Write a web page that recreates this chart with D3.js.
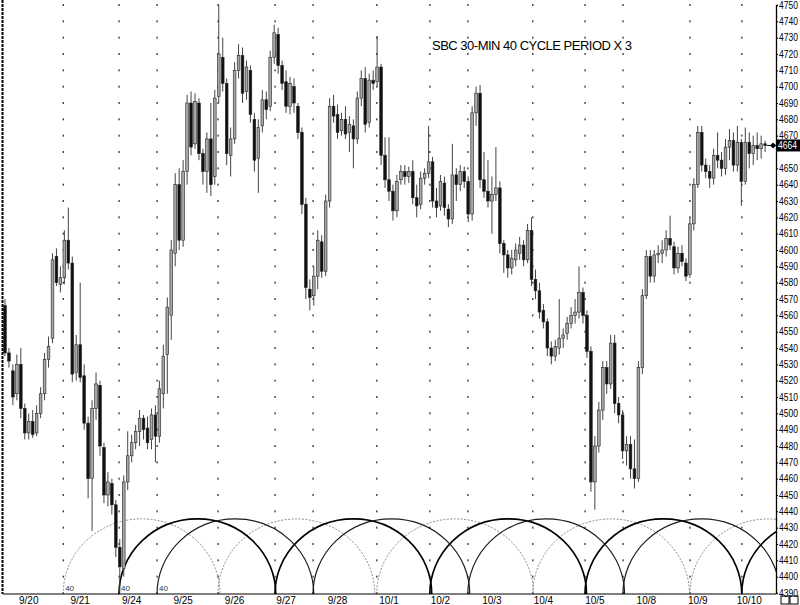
<!DOCTYPE html>
<html>
<head>
<meta charset="utf-8">
<script src="https://cdn.jsdelivr.net/npm/d3@7/dist/d3.min.js"></script>
<style>
  body { margin: 0; background: #fff; }
  svg { display: block; }
  .axis text { font-family: 'Liberation Sans Narrow', 'Liberation Sans', sans-serif; font-size: 10px; fill: #000; }
</style>
</head>
<body>
<div id="chart"></div>
<script>
// one label per trading day, 13 half-hour bars per day
const dates = ['9/20', '9/21', '9/24', '9/25', '9/26', '9/27', '9/28', '10/1', '10/2', '10/3', '10/4', '10/5', '10/8', '10/9', '10/10'];
const barsPerDay = 13;

// 30-min bars
const opens = [
  4566, 4537, 4526, 4512, 4530, 4503, 4488, 4495, 4488, 4500, 4512, 4533, 4546,
  4596, 4579, 4583, 4606, 4592, 4525, 4542, 4523, 4494, 4460, 4503, 4517, 4479,
  4450, 4457, 4444, 4418, 4405, 4458, 4474, 4482, 4489, 4497, 4491, 4484, 4499,
  4486, 4512, 4536, 4560, 4598, 4640, 4606, 4648, 4690, 4665, 4690, 4659, 4648,
  4668, 4645, 4694, 4718, 4702, 4658, 4668, 4710, 4719, 4697, 4710, 4680, 4656,
  4676, 4692, 4688, 4718, 4732, 4713, 4703, 4688, 4700, 4688, 4672, 4628, 4576,
  4572, 4584, 4605, 4587, 4630, 4688, 4683, 4673, 4680, 4672, 4676, 4668, 4693,
  4705, 4678, 4704, 4703, 4712, 4658, 4643, 4636, 4624, 4643, 4648, 4645, 4648,
  4632, 4628, 4644, 4647, 4654, 4630, 4627, 4641, 4625, 4619, 4646, 4640, 4648,
  4642, 4622, 4684, 4696, 4643, 4636, 4630, 4634, 4638, 4604, 4597, 4589, 4594,
  4598, 4603, 4594, 4612, 4582, 4575, 4563, 4556, 4540, 4535, 4540, 4546, 4549,
  4555, 4560, 4562, 4574, 4560, 4538, 4458, 4480, 4502, 4528, 4518, 4543, 4506,
  4499, 4477, 4481, 4466, 4460, 4528, 4572, 4596, 4584, 4597, 4598, 4600, 4607,
  4602, 4589, 4598, 4592, 4585, 4616, 4640, 4672, 4652, 4648, 4644, 4658, 4655,
  4650, 4663, 4667, 4652, 4666, 4642, 4666, 4659, 4664, 4662, 4665
];
const highs = [
  4570, 4540, 4530, 4536, 4540, 4506, 4500, 4502, 4505, 4516, 4537, 4547, 4598,
  4601, 4590, 4612, 4626, 4596, 4548, 4580, 4530, 4498, 4508, 4525, 4520, 4482,
  4464, 4460, 4447, 4423, 4462, 4489, 4487, 4493, 4502, 4499, 4498, 4503, 4505,
  4520, 4542, 4571, 4606, 4647, 4650, 4655, 4695, 4697, 4696, 4693, 4662, 4672,
  4690, 4698, 4750, 4730, 4705, 4675, 4715, 4726, 4724, 4716, 4713, 4684, 4680,
  4698, 4697, 4722, 4738, 4736, 4716, 4710, 4706, 4705, 4690, 4675, 4632, 4582,
  4590, 4612, 4609, 4634, 4693, 4695, 4689, 4684, 4688, 4682, 4680, 4697, 4710,
  4712, 4708, 4710, 4731, 4714, 4669, 4669, 4640, 4646, 4652, 4652, 4651, 4655,
  4640, 4648, 4650, 4676, 4657, 4638, 4646, 4645, 4628, 4665, 4650, 4652, 4651,
  4645, 4688, 4700, 4701, 4660, 4655, 4645, 4663, 4642, 4606, 4600, 4600, 4604,
  4608, 4606, 4616, 4620, 4588, 4580, 4567, 4558, 4544, 4545, 4570, 4552, 4559,
  4565, 4570, 4590, 4577, 4563, 4541, 4486, 4507, 4532, 4532, 4548, 4548, 4510,
  4502, 4486, 4486, 4484, 4532, 4576, 4600, 4600, 4600, 4603, 4606, 4612, 4621,
  4605, 4602, 4603, 4595, 4620, 4644, 4676, 4676, 4656, 4652, 4662, 4672, 4660,
  4668, 4674, 4672, 4676, 4668, 4675, 4672, 4670, 4672, 4670, 4667
];
const lows = [
  4535, 4528, 4505, 4508, 4497, 4484, 4484, 4485, 4486, 4497, 4508, 4528, 4543,
  4578, 4574, 4579, 4588, 4519, 4520, 4519, 4490, 4448, 4428, 4496, 4474, 4445,
  4443, 4438, 4412, 4390, 4400, 4453, 4470, 4478, 4480, 4484, 4478, 4478, 4470,
  4482, 4503, 4512, 4545, 4590, 4600, 4602, 4640, 4658, 4662, 4655, 4640, 4635,
  4633, 4640, 4690, 4697, 4652, 4645, 4665, 4705, 4690, 4692, 4678, 4648, 4635,
  4672, 4680, 4685, 4714, 4708, 4698, 4684, 4683, 4684, 4668, 4622, 4570, 4563,
  4566, 4576, 4583, 4584, 4626, 4678, 4668, 4670, 4668, 4660, 4650, 4665, 4688,
  4672, 4675, 4698, 4700, 4652, 4638, 4630, 4618, 4620, 4640, 4640, 4641, 4628,
  4620, 4625, 4640, 4644, 4626, 4620, 4624, 4621, 4614, 4616, 4630, 4636, 4638,
  4617, 4618, 4676, 4638, 4632, 4626, 4610, 4630, 4598, 4586, 4583, 4585, 4590,
  4594, 4590, 4592, 4578, 4570, 4558, 4552, 4535, 4530, 4532, 4536, 4540, 4545,
  4552, 4555, 4558, 4555, 4534, 4452, 4441, 4476, 4496, 4512, 4515, 4500, 4494,
  4472, 4468, 4460, 4454, 4458, 4524, 4570, 4580, 4580, 4592, 4592, 4596, 4600,
  4585, 4586, 4590, 4581, 4583, 4612, 4638, 4648, 4644, 4638, 4640, 4650, 4645,
  4646, 4655, 4648, 4648, 4627, 4640, 4650, 4652, 4655, 4656, 4660
];
const closes = [
  4537, 4532, 4510, 4530, 4503, 4488, 4495, 4487, 4500, 4512, 4533, 4541, 4594,
  4580, 4583, 4606, 4592, 4524, 4542, 4522, 4494, 4460, 4503, 4518, 4480, 4450,
  4458, 4444, 4418, 4406, 4458, 4474, 4482, 4489, 4497, 4490, 4482, 4499, 4486,
  4515, 4535, 4565, 4600, 4640, 4606, 4648, 4690, 4663, 4691, 4659, 4648, 4668,
  4640, 4693, 4720, 4702, 4659, 4668, 4710, 4719, 4696, 4712, 4683, 4655, 4675,
  4692, 4686, 4718, 4733, 4713, 4702, 4688, 4702, 4690, 4672, 4628, 4577, 4571,
  4584, 4606, 4587, 4630, 4688, 4682, 4672, 4680, 4671, 4677, 4668, 4693, 4705,
  4677, 4704, 4702, 4712, 4658, 4643, 4636, 4624, 4642, 4648, 4645, 4648, 4632,
  4627, 4644, 4647, 4654, 4630, 4626, 4642, 4626, 4619, 4646, 4640, 4648, 4642,
  4622, 4684, 4696, 4643, 4636, 4630, 4634, 4638, 4604, 4597, 4589, 4595, 4600,
  4603, 4594, 4612, 4582, 4575, 4562, 4556, 4540, 4535, 4541, 4546, 4548, 4555,
  4560, 4562, 4574, 4560, 4538, 4458, 4480, 4502, 4528, 4518, 4543, 4506, 4499,
  4477, 4481, 4466, 4460, 4528, 4572, 4596, 4584, 4597, 4598, 4600, 4607, 4603,
  4589, 4598, 4593, 4584, 4616, 4640, 4672, 4652, 4648, 4644, 4658, 4655, 4650,
  4663, 4667, 4652, 4666, 4642, 4666, 4659, 4664, 4662, 4665, 4664
];

// 40-bar cycle lows (bar index), three phase-shifted series
const cycleLength = 39.6;
const cycleA = [15.2, 54.3, 94.4, 133.8, 173.5];
const cycleB = [29.3, 68.7, 107.8, 147.0, 186.6];
const cycleC = [38.9, 78.3, 117.4, 156.6];
const arcTop = 4436;

const W = 800, H = 605;
const plotL = 3, plotR = 776, plotB = 594;
const nBars = dates.length * barsPerDay;

const x = d3.scaleLinear().domain([0, nBars]).range([plotL, plotR - 1]);
const y = d3.scaleLinear().domain([4390, 4750]).range([593, 5]);
const priceTicks = d3.range(4390, 4751, 10);

const bars = opens.map((o, i) => ({ i, o, h: highs[i], l: lows[i], c: closes[i] }));
const last = bars[bars.length - 1];

const svg = d3.select('#chart').append('svg').attr('width', W).attr('height', H);
svg.append('rect').attr('width', W).attr('height', H).attr('fill', '#fff');

svg.append('defs').append('clipPath').attr('id', 'plotClip')
  .append('rect').attr('x', plotL).attr('y', 0).attr('width', plotR - plotL).attr('height', plotB);

// dotted cycle lines
const allLows = [...cycleA, ...cycleB, ...cycleC].filter((t) => t < nBars);
const dots = svg.append('g');
allLows.forEach((t) => {
  dots.selectAll(null).data(priceTicks).enter().append('rect')
    .attr('x', x(t) - 0.5).attr('y', (d) => y(d) - 1)
    .attr('width', 1.2).attr('height', 2).attr('fill', '#222');
});

// cycle arcs
const ry = y(4390) - y(arcTop);
const arcSeries = [
  { lows: cycleA, stroke: '#8a8a8a', width: 1, dash: '2,1.5' },
  { lows: cycleB, stroke: '#000', width: 1.6, dash: null },
  { lows: cycleC, stroke: '#1a1a1a', width: 1.2, dash: null }
];
const arcG = svg.append('g').attr('clip-path', 'url(#plotClip)');
arcSeries.forEach((s) => {
  arcG.selectAll(null).data(s.lows).enter().append('path')
    .attr('d', (t) => {
      const x0 = x(t), x1 = x(t + cycleLength);
      return `M${x0},${plotB} A${(x1 - x0) / 2},${ry} 0 0 1 ${x1},${plotB}`;
    })
    .attr('fill', 'none')
    .attr('stroke', s.stroke)
    .attr('stroke-width', s.width)
    .attr('stroke-dasharray', s.dash);
  svg.append('text')
    .attr('x', x(s.lows[0]) + 2).attr('y', plotB - 3)
    .attr('font-family', 'Liberation Sans, sans-serif').attr('font-size', 8)
    .attr('fill', '#333').text('40');
});

// candles
const bw = (x(1) - x(0)) * 0.68;
const cg = svg.append('g').attr('clip-path', 'url(#plotClip)');
cg.selectAll('line.wick').data(bars).enter().append('line')
  .attr('class', 'wick')
  .attr('x1', (d) => x(d.i + 0.5)).attr('x2', (d) => x(d.i + 0.5))
  .attr('y1', (d) => y(d.h)).attr('y2', (d) => y(d.l))
  .attr('stroke', '#444').attr('stroke-width', 1);
cg.selectAll('rect.body').data(bars).enter().append('rect')
  .attr('class', 'body')
  .attr('x', (d) => x(d.i + 0.5) - bw / 2)
  .attr('y', (d) => y(Math.max(d.o, d.c)))
  .attr('width', bw)
  .attr('height', (d) => Math.max(1, Math.abs(y(d.o) - y(d.c))))
  .attr('fill', (d) => (d.c >= d.o ? '#a8a8a8' : '#111'))
  .attr('stroke', '#222').attr('stroke-width', 0.6);

// frame
svg.append('line').attr('x1', plotL - 0.5).attr('x2', plotL - 0.5).attr('y1', 0).attr('y2', plotB)
  .attr('stroke', '#000').attr('stroke-width', 2).attr('stroke-dasharray', '3,1');
svg.append('line').attr('x1', plotL).attr('x2', plotR).attr('y1', plotB).attr('y2', plotB)
  .attr('stroke', '#000').attr('stroke-width', 1.2);

// price axis, labels squeezed into the narrow right margin;
// the tick hidden behind the last-price box is left out
const shownTicks = priceTicks.filter((v) => Math.abs(y(v) - y(last.c)) > 8);
const yAxis = svg.append('g').attr('class', 'axis').attr('transform', `translate(${plotR},0)`)
  .call(d3.axisRight(y).tickValues(shownTicks).tickSize(2).tickPadding(1).tickFormat(d3.format('d')));
yAxis.select('.domain').attr('stroke', '#000').attr('stroke-width', 1.3);
yAxis.selectAll('.tick line').attr('stroke', '#000');
yAxis.selectAll('.tick text').attr('textLength', 19).attr('lengthAdjust', 'spacingAndGlyphs');

// date labels
svg.append('g').attr('class', 'axis').selectAll('text').data(dates).enter().append('text')
  .attr('x', (d, k) => x(k * barsPerDay + barsPerDay / 2))
  .attr('y', 604)
  .attr('text-anchor', 'middle')
  .text((d) => d);

// last price marker
const ly = y(last.c);
svg.append('line').attr('x1', x(last.i + 1)).attr('x2', plotR).attr('y1', ly).attr('y2', ly)
  .attr('stroke', '#000').attr('stroke-width', 1);
svg.append('path')
  .attr('d', `M${x(last.i + 1) + 6},${ly - 3} l3,3 l-3,3 l-3,-3 z`)
  .attr('fill', '#000');
svg.append('rect').attr('x', plotR + 1).attr('y', ly - 6).attr('width', W - plotR - 1).attr('height', 12).attr('fill', '#000');
svg.append('text').attr('x', plotR + 2).attr('y', ly + 3.5)
  .attr('font-family', "'Liberation Sans Narrow', 'Liberation Sans', sans-serif").attr('font-size', 10)
  .attr('textLength', 19).attr('lengthAdjust', 'spacingAndGlyphs')
  .attr('fill', '#fff').text(last.c);

// corner boxes
[781, 790].forEach((bx) => {
  svg.append('rect').attr('x', bx).attr('y', 596).attr('width', 8).attr('height', 8)
    .attr('fill', 'none').attr('stroke', '#000').attr('stroke-width', 1);
});

// title
svg.append('text')
  .attr('x', 432).attr('y', 50)
  .attr('font-family', 'Liberation Sans, Arial, sans-serif')
  .attr('font-size', 13).attr('letter-spacing', -0.5)
  .attr('fill', '#000')
  .text('SBC 30-MIN 40 CYCLE PERIOD X 3');
</script>
</body>
</html>
